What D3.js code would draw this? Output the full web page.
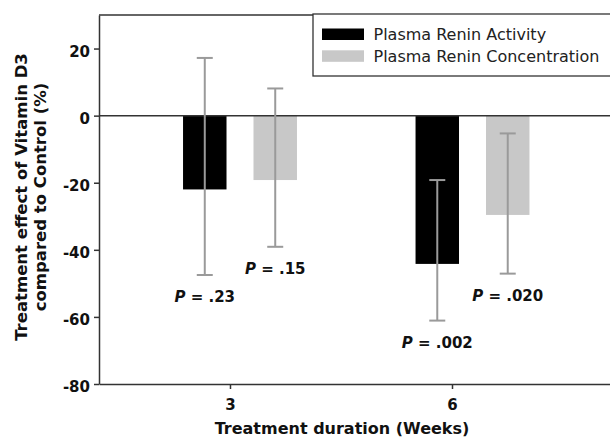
<!DOCTYPE html>
<html>
<head>
<meta charset="utf-8">
<script src="https://cdn.jsdelivr.net/npm/d3@7"></script>
<style>
  body { margin: 0; background: #fff; }
  text { font-family: "DejaVu Sans", sans-serif; }
</style>
</head>
<body>
<div id="chart-area"></div>
<script>
// data
const weeks = ["3", "6"];
const series = ["Plasma Renin Activity", "Plasma Renin Concentration"];
const praMean = [-22, -44.2];
const praLow = [-47.5, -61.1];
const praHigh = [17.2, -19.2];
const prcMean = [-19.2, -29.6];
const prcLow = [-39.1, -47.1];
const prcHigh = [8.1, -5.3];
const praP = [".23", ".002"];
const prcP = [".15", ".020"];
const yTicks = [-80, -60, -40, -20, 0, 20];
const xTicks = [3, 6];

const WIDTH = 610, HEIGHT = 438;
const MARGINS = { top: 15, left: 99, bottom: 54, right: 0 };
const CHART_WIDTH = WIDTH - MARGINS.left - MARGINS.right;
const CHART_HEIGHT = HEIGHT - MARGINS.top - MARGINS.bottom;

const colors = ["#000000", "#c8c8c8"];
const errColor = "#9a9a9a";

const rows = [];
weeks.forEach((w, i) => {
    rows.push({ week: w, key: series[0], mean: praMean[i], lo: praLow[i], hi: praHigh[i], p: praP[i] });
    rows.push({ week: w, key: series[1], mean: prcMean[i], lo: prcLow[i], hi: prcHigh[i], p: prcP[i] });
});

const svg = d3.select('#chart-area')
    .append('svg')
    .attr('width', WIDTH)
    .attr('height', HEIGHT);

const g = svg.append('g')
    .attr('transform', `translate(${MARGINS.left}, ${MARGINS.top})`);

const y = d3.scaleLinear().domain([-80, 30]).range([CHART_HEIGHT, 0]);
// axis scale in weeks
const xAxisScale = d3.scaleLinear().domain([1.23, 8.135]).range([0, CHART_WIDTH]);
// bar groups sit a little off the ticks in the original
const x0 = d3.scaleBand().domain(weeks).range([24.75, 489.75]).paddingInner(0.51).paddingOuter(0.255);
const x1 = d3.scaleBand().domain(series).range([0, x0.bandwidth()]).paddingInner(0.383);

// bars
g.selectAll('rect.bar')
    .data(rows)
    .enter()
    .append('rect')
    .attr('class', 'bar')
    .attr('x', d => x0(d.week) + x1(d.key))
    .attr('width', x1.bandwidth())
    .attr('y', y(0))
    .attr('height', d => y(d.mean) - y(0))
    .attr('fill', d => colors[series.indexOf(d.key)]);

// zero line
g.append('line')
    .attr('x1', 0).attr('x2', CHART_WIDTH)
    .attr('y1', y(0)).attr('y2', y(0))
    .attr('stroke', '#333').attr('stroke-width', 1.5);

// error bars
const cx = d => x0(d.week) + x1(d.key) + x1.bandwidth() / 2;
const err = g.selectAll('g.err').data(rows).enter().append('g').attr('class', 'err')
    .attr('stroke', errColor).attr('stroke-width', 2);
err.append('line')
    .attr('x1', cx).attr('x2', cx)
    .attr('y1', d => y(d.hi)).attr('y2', d => y(d.lo));
err.append('line')
    .attr('x1', d => cx(d) - 8).attr('x2', d => cx(d) + 8)
    .attr('y1', d => y(d.hi)).attr('y2', d => y(d.hi));
err.append('line')
    .attr('x1', d => cx(d) - 8).attr('x2', d => cx(d) + 8)
    .attr('y1', d => y(d.lo)).attr('y2', d => y(d.lo));

// P values under the error bars
const pText = g.selectAll('text.pval').data(rows).enter().append('text')
    .attr('class', 'pval')
    .attr('x', cx)
    .attr('y', d => y(d.lo) + 27)
    .attr('text-anchor', 'middle')
    .attr('font-size', '15px')
    .attr('font-weight', 'bold')
    .attr('fill', '#111');
pText.append('tspan').attr('font-style', 'italic').text('P');
pText.append('tspan').text(d => ' = ' + d.p);

// axes (plain hyphen minus, like the original)
const yAxisGroup = g.append('g')
    .call(d3.axisLeft(y).tickValues(yTicks).tickSize(5).tickPadding(4).tickSizeOuter(0)
        .tickFormat(d => String(d)));
yAxisGroup.selectAll('text').attr('dy', '0.5em');

const xAxisGroup = g.append('g')
    .attr('transform', `translate(0, ${CHART_HEIGHT})`)
    .call(d3.axisBottom(xAxisScale).tickValues(xTicks).tickSize(5).tickPadding(10).tickSizeOuter(0)
        .tickFormat(d => String(d)));

[yAxisGroup, xAxisGroup].forEach(a => {
    a.select('.domain').attr('stroke', '#333').attr('stroke-width', 1.5);
    a.selectAll('.tick line').attr('stroke', '#333').attr('stroke-width', 1.5);
    a.selectAll('.tick text')
        .attr('font-family', '"DejaVu Sans", sans-serif')
        .attr('font-size', '15px')
        .attr('font-weight', 'bold')
        .attr('fill', '#111');
});

// top frame
g.append('line')
    .attr('x1', 0).attr('x2', CHART_WIDTH)
    .attr('y1', 0).attr('y2', 0)
    .attr('stroke', '#333').attr('stroke-width', 1.5);

// X label
svg.append('text')
    .attr('x', 342)
    .attr('y', 434)
    .attr('text-anchor', 'middle')
    .attr('font-size', '16px')
    .attr('font-weight', 'bold')
    .attr('fill', '#111')
    .text('Treatment duration (Weeks)');

// Y label, two lines
const yLabel = svg.append('text')
    .attr('transform', 'translate(0, 197) rotate(-90)')
    .attr('text-anchor', 'middle')
    .attr('font-size', '16.5px')
    .attr('font-weight', 'bold')
    .attr('fill', '#111');
yLabel.append('tspan').attr('x', 0).attr('y', 27).text('Treatment effect of Vitamin D3');
yLabel.append('tspan').attr('x', 0).attr('y', 46).text('compared to Control (%)');

// legend
const legend = svg.append('g').attr('transform', 'translate(313, 14)');
legend.append('rect')
    .attr('x', 0).attr('y', 0)
    .attr('width', 310).attr('height', 62)
    .attr('fill', '#fff')
    .attr('stroke', '#333').attr('stroke-width', 1.3);
series.forEach((s, i) => {
    legend.append('rect')
        .attr('x', 9).attr('y', 14.5 + i * 21.8)
        .attr('width', 42).attr('height', 11.5)
        .attr('fill', colors[i]);
    legend.append('text')
        .attr('x', 60.5).attr('y', 25.5 + i * 22.2)
        .attr('font-size', '16px')
        .attr('fill', '#222')
        .text(s);
});
</script>
</body>
</html>
